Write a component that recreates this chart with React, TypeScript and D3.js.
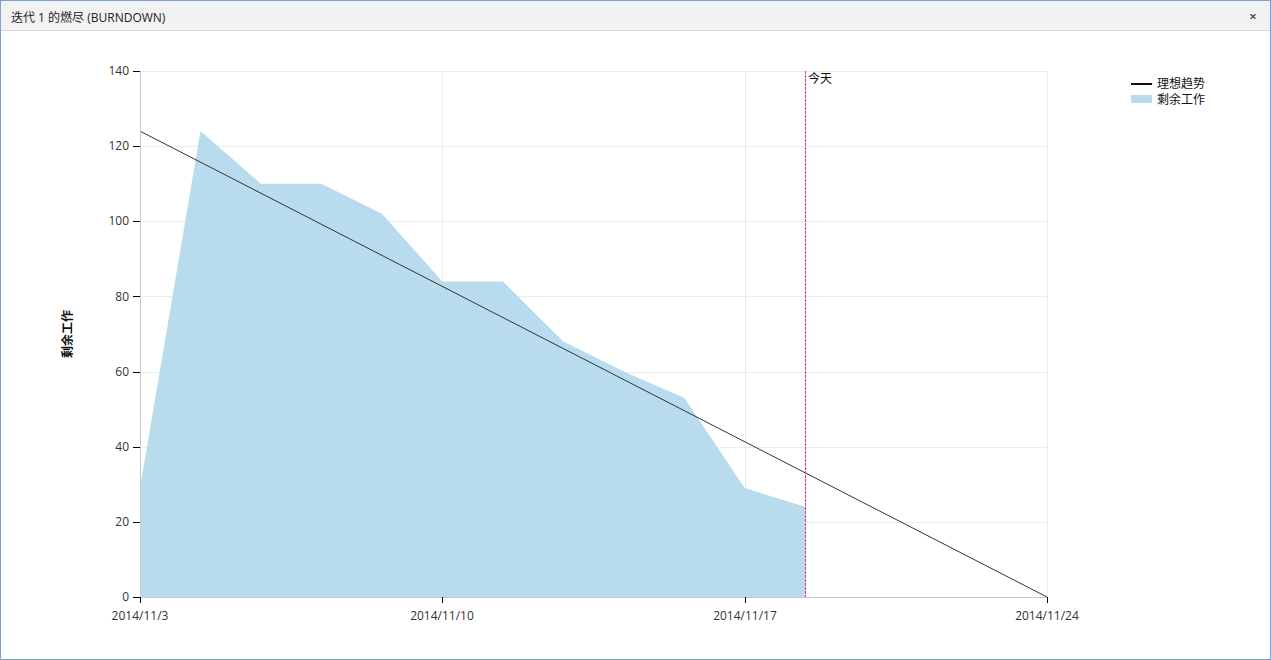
import React from "react";
import * as d3 from "d3";

const workDays: string[] = [
  "2014/11/3", "2014/11/4", "2014/11/5", "2014/11/6", "2014/11/7",
  "2014/11/10", "2014/11/11", "2014/11/12", "2014/11/13", "2014/11/14",
  "2014/11/17", "2014/11/18", "2014/11/19", "2014/11/20", "2014/11/21",
  "2014/11/24",
];
const remainingWork: number[] = [29, 124, 110, 110, 102, 84, 84, 68, 60, 53, 29, 24];
const idealStart = 124;
const idealEnd = 0;
const xTickLabels: string[] = ["2014/11/3", "2014/11/10", "2014/11/17", "2014/11/24"];
const yTicks: number[] = [0, 20, 40, 60, 80, 100, 120, 140];
const todayLabel = "2014/11/18";
const title = "迭代 1 的燃尽 (BURNDOWN)";
const yAxisTitle = "剩余工作";
const legendItems = ["理想趋势", "剩余工作"];

const W = 1271;
const H = 660;
const FONT = "'Open Sans', 'Noto Sans CJK SC', sans-serif";

export default function App() {
  const left = 140, right = 1047, top = 71, bottom = 597;
  const x = d3.scaleLinear().domain([0, workDays.length - 1]).range([left, right]);
  const y = d3.scaleLinear().domain([0, 140]).range([bottom, top]);

  const area = d3.area<number>()
    .x((_, i) => x(i))
    .y0(y(0))
    .y1((d) => y(d));
  const idealData: [number, number][] = [
    [0, idealStart],
    [workDays.length - 1, idealEnd],
  ];
  const line = d3.line<[number, number]>().x((d) => x(d[0])).y((d) => y(d[1]));
  const todayX = Math.round(x(workDays.indexOf(todayLabel)));

  return (
    <svg width={W} height={H} style={{ position: "absolute", left: 0, top: 0, display: "block" }} fontFamily={FONT}>
      <rect x={0} y={0} width={W} height={H} fill="#ffffff" />
      {/* window frame */}
      <rect x={0.5} y={0.5} width={W - 1} height={30} fill="#f2f2f2" />
      <line x1={0} x2={W} y1={30.5} y2={30.5} stroke="#dadada" />
      <rect x={0.5} y={0.5} width={W - 1} height={H - 1} fill="none" stroke="#7f9fd3" />
      <text x={11} y={22} fontSize={12} fill="#222">{title}</text>
      <text x={1253} y={21} fontSize={13} fill="#555" textAnchor="middle" fontWeight="bold">×</text>

      {/* grid */}
      {yTicks.map((t) => (
        <line key={"gy" + t} x1={left} x2={right} y1={Math.round(y(t)) + 0.5} y2={Math.round(y(t)) + 0.5} stroke="#ececec" />
      ))}
      {xTickLabels.map((lbl) => {
        const xi = Math.round(x(workDays.indexOf(lbl)));
        return <line key={"gx" + lbl} x1={xi + 0.5} x2={xi + 0.5} y1={top} y2={bottom} stroke="#ececec" />;
      })}

      {/* remaining work area */}
      <path d={area(remainingWork) || ""} fill="#b8dcee" />

      {/* ideal trend */}
      <path d={line(idealData) || ""} fill="none" stroke="#333" strokeWidth={1} />

      {/* axes */}
      <line x1={left + 0.5} x2={left + 0.5} y1={top} y2={bottom} stroke="#c8c8c8" />
      <line x1={left} x2={right} y1={bottom + 0.5} y2={bottom + 0.5} stroke="#c8c8c8" />
      {yTicks.map((t) => (
        <g key={"yt" + t}>
          <line x1={left - 7} x2={left} y1={Math.round(y(t)) + 0.5} y2={Math.round(y(t)) + 0.5} stroke="#000" />
          <text x={left - 11} y={y(t)} dy="0.35em" textAnchor="end" fontSize={12} fill="#333">{t}</text>
        </g>
      ))}
      {xTickLabels.map((lbl) => {
        const xi = Math.round(x(workDays.indexOf(lbl)));
        return (
          <g key={"xt" + lbl}>
            <line x1={xi + 0.5} x2={xi + 0.5} y1={bottom} y2={bottom + 6} stroke="#000" />
            <text x={xi} y={bottom + 23} textAnchor="middle" fontSize={12} fill="#333">{lbl}</text>
          </g>
        );
      })}
      <text transform={`translate(72,${(top + bottom) / 2}) rotate(-90)`} textAnchor="middle" fontSize={12} fontWeight="bold" fill="#111">{yAxisTitle}</text>

      {/* today */}
      <line x1={todayX + 0.5} x2={todayX + 0.5} y1={top} y2={bottom} stroke="#e8306e" strokeDasharray="3,1" />
      <text x={todayX + 3} y={top + 12} fontSize={12} fill="#111">今天</text>

      {/* legend */}
      <line x1={1131} x2={1152} y1={84} y2={84} stroke="#111" strokeWidth={2} />
      <text x={1157} y={84} dy="0.35em" fontSize={12} fill="#111">{legendItems[0]}</text>
      <rect x={1131} y={95} width={21} height={8} fill="#b8dcee" />
      <text x={1157} y={100} dy="0.35em" fontSize={12} fill="#111">{legendItems[1]}</text>
    </svg>
  );
}
